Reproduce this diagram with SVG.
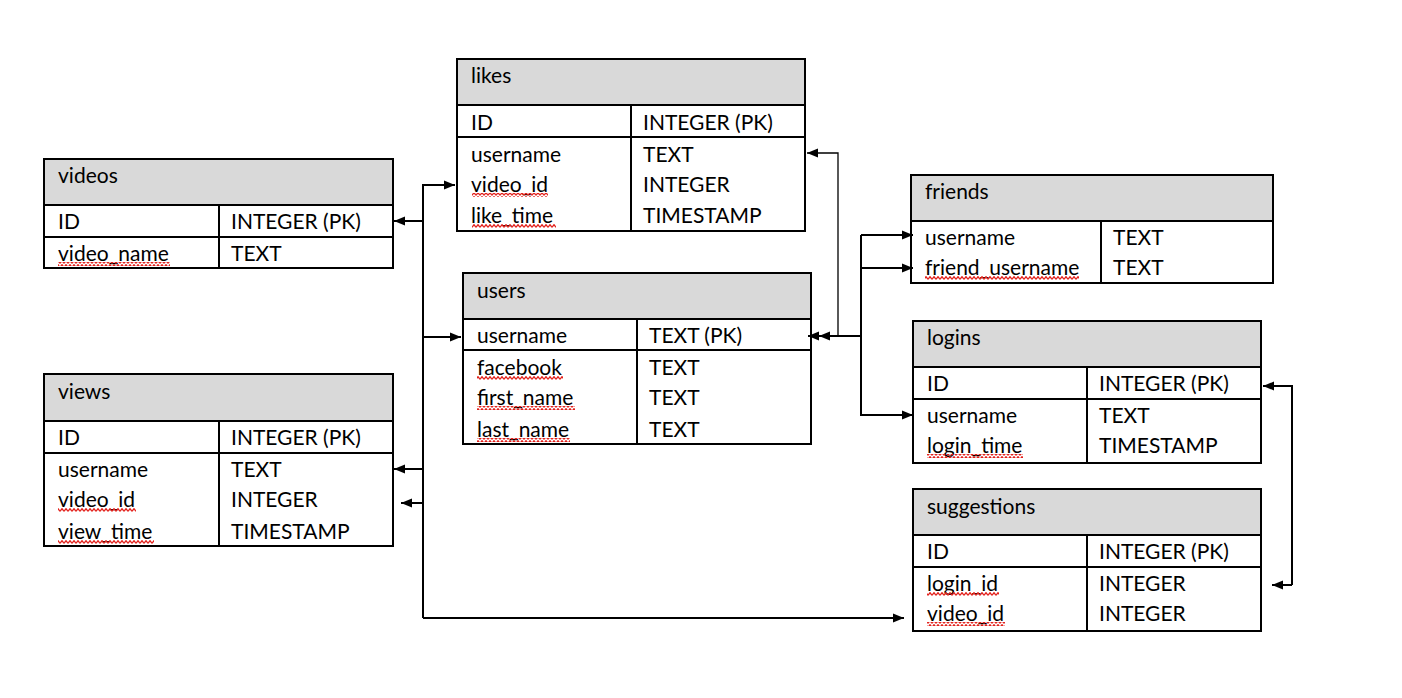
<svg xmlns="http://www.w3.org/2000/svg" width="1402" height="698" viewBox="0 0 1402 698">
  <defs>
    <marker id="arrow" markerUnits="userSpaceOnUse" markerWidth="12" markerHeight="10" refX="11" refY="5" orient="auto">
      <path d="M0,0.5 L11,5 L0,9.5 z" fill="#000"/>
    </marker>
    <pattern id="squiggle" patternUnits="userSpaceOnUse" width="4" height="4">
      <path d="M0,3.3 L2,0.7 L4,3.3" fill="none" stroke="#e3201b" stroke-width="1.3"/>
    </pattern>
  </defs>
  <style>
    .frame { fill: none; stroke: #000; stroke-width: 2; }
    .head { fill: #d9d9d9; stroke: none; }
    .rule { stroke: #000; stroke-width: 2; }
    text { font-family: Lato, "Liberation Sans", Arial, sans-serif; font-size: 21px; fill: #000; }
    .wave { fill: url(#squiggle); }
    .link { fill: none; stroke: #000; stroke-width: 2; }
    .thin { fill: none; stroke: #000; stroke-width: 1.3; }
  </style>
  <rect width="1402" height="698" fill="#fff"/>

  <!-- likes -->
  <g id="likes">
    <rect class="head" x="457" y="59" width="348" height="46"/>
    <line class="rule" x1="457" y1="105" x2="805" y2="105"/>
    <line class="rule" x1="457" y1="137" x2="805" y2="137"/>
    <line class="rule" x1="631" y1="105" x2="631" y2="231"/>
    <rect class="frame" x="457" y="59" width="348" height="172"/>
    <text x="471" y="83">likes</text>
    <text x="471" y="130">ID</text>
    <text x="643" y="130">INTEGER (PK)</text>
    <text x="471" y="162">username</text>
    <text x="643" y="162">TEXT</text>
    <text x="471" y="192">video_id</text>
    <text x="643" y="192">INTEGER</text>
    <text x="471" y="223">like_time</text>
    <text x="643" y="223">TIMESTAMP</text>
    <rect class="wave" x="472" y="193" width="76" height="4"/>
    <rect class="wave" x="472" y="224" width="84" height="4"/>
  </g>

  <!-- videos -->
  <g id="videos">
    <rect class="head" x="44" y="159" width="349" height="46"/>
    <line class="rule" x1="44" y1="205" x2="393" y2="205"/>
    <line class="rule" x1="44" y1="237" x2="393" y2="237"/>
    <line class="rule" x1="219" y1="205" x2="219" y2="268"/>
    <rect class="frame" x="44" y="159" width="349" height="109"/>
    <text x="58" y="183">videos</text>
    <text x="58" y="229">ID</text>
    <text x="231" y="229">INTEGER (PK)</text>
    <text x="58" y="261">video_name</text>
    <text x="231" y="261">TEXT</text>
    <rect class="wave" x="58" y="262" width="112" height="4"/>
  </g>

  <!-- views -->
  <g id="views">
    <rect class="head" x="44" y="374" width="349" height="47"/>
    <line class="rule" x1="44" y1="421" x2="393" y2="421"/>
    <line class="rule" x1="44" y1="453" x2="393" y2="453"/>
    <line class="rule" x1="219" y1="421" x2="219" y2="546"/>
    <rect class="frame" x="44" y="374" width="349" height="172"/>
    <text x="58" y="399">views</text>
    <text x="58" y="445">ID</text>
    <text x="231" y="445">INTEGER (PK)</text>
    <text x="58" y="477">username</text>
    <text x="231" y="477">TEXT</text>
    <text x="58" y="507">video_id</text>
    <text x="231" y="507">INTEGER</text>
    <text x="58" y="539">view_time</text>
    <text x="231" y="539">TIMESTAMP</text>
    <rect class="wave" x="58" y="508" width="78" height="4"/>
    <rect class="wave" x="58" y="540" width="96" height="4"/>
  </g>

  <!-- users -->
  <g id="users">
    <rect class="head" x="463" y="273" width="348" height="46"/>
    <line class="rule" x1="463" y1="319" x2="811" y2="319"/>
    <line class="rule" x1="463" y1="350" x2="811" y2="350"/>
    <line class="rule" x1="637" y1="319" x2="637" y2="444"/>
    <rect class="frame" x="463" y="273" width="348" height="171"/>
    <text x="477" y="298">users</text>
    <text x="477" y="343">username</text>
    <text x="649" y="343">TEXT (PK)</text>
    <text x="477" y="375">facebook</text>
    <text x="649" y="375">TEXT</text>
    <text x="477" y="405">first_name</text>
    <text x="649" y="405">TEXT</text>
    <text x="477" y="437">last_name</text>
    <text x="649" y="437">TEXT</text>
    <rect class="wave" x="477" y="376" width="86" height="4"/>
    <rect class="wave" x="477" y="406" width="98" height="4"/>
    <rect class="wave" x="477" y="438" width="93" height="4"/>
  </g>

  <!-- friends -->
  <g id="friends">
    <rect class="head" x="911" y="175" width="362" height="46"/>
    <line class="rule" x1="911" y1="221" x2="1273" y2="221"/>
    <line class="rule" x1="1101" y1="221" x2="1101" y2="283"/>
    <rect class="frame" x="911" y="175" width="362" height="108"/>
    <text x="925" y="199">friends</text>
    <text x="925" y="245">username</text>
    <text x="1113" y="245">TEXT</text>
    <text x="925" y="275">friend_username</text>
    <text x="1113" y="275">TEXT</text>
    <rect class="wave" x="925" y="276" width="154" height="4"/>
  </g>

  <!-- logins -->
  <g id="logins">
    <rect class="head" x="913" y="321" width="348" height="46"/>
    <line class="rule" x1="913" y1="367" x2="1261" y2="367"/>
    <line class="rule" x1="913" y1="399" x2="1261" y2="399"/>
    <line class="rule" x1="1087" y1="367" x2="1087" y2="463"/>
    <rect class="frame" x="913" y="321" width="348" height="142"/>
    <text x="927" y="345">logins</text>
    <text x="927" y="391">ID</text>
    <text x="1099" y="391">INTEGER (PK)</text>
    <text x="927" y="423">username</text>
    <text x="1099" y="423">TEXT</text>
    <text x="927" y="453">login_time</text>
    <text x="1099" y="453">TIMESTAMP</text>
    <rect class="wave" x="927" y="454" width="96" height="4"/>
  </g>

  <!-- suggestions -->
  <g id="suggestions">
    <rect class="head" x="913" y="489" width="348" height="46"/>
    <line class="rule" x1="913" y1="535" x2="1261" y2="535"/>
    <line class="rule" x1="913" y1="567" x2="1261" y2="567"/>
    <line class="rule" x1="1087" y1="535" x2="1087" y2="631"/>
    <rect class="frame" x="913" y="489" width="348" height="142"/>
    <text x="927" y="514">suggestions</text>
    <text x="927" y="559">ID</text>
    <text x="1099" y="559">INTEGER (PK)</text>
    <text x="927" y="591">login_id</text>
    <text x="1099" y="591">INTEGER</text>
    <text x="927" y="621">video_id</text>
    <text x="1099" y="621">INTEGER</text>
    <rect class="wave" x="927" y="592" width="72" height="4"/>
    <rect class="wave" x="927" y="622" width="78" height="4"/>
  </g>

  <!-- relationship lines -->
  <g id="connectors">
    <!-- left trunk -->
    <path class="link" d="M423,618 V185 H455" marker-end="url(#arrow)"/>
    <path class="link" d="M423,221 H394" marker-end="url(#arrow)"/>
    <path class="link" d="M423,337 H461" marker-end="url(#arrow)"/>
    <path class="link" d="M423,469 H394" marker-end="url(#arrow)"/>
    <path class="link" d="M423,503 H401" marker-end="url(#arrow)"/>
    <path class="link" d="M423,618 H904" marker-end="url(#arrow)"/>
    <!-- likes / users -->
    <path class="thin" d="M838,336 V153 H807" marker-end="url(#arrow)"/>
    <path class="link" d="M838,336 H808" marker-end="url(#arrow)"/>
    <path class="link" d="M861,336 H819" marker-end="url(#arrow)"/>
    <!-- users / friends / logins -->
    <path class="link" d="M861,235 V415 H913" marker-end="url(#arrow)"/>
    <path class="link" d="M861,235 H913" marker-end="url(#arrow)"/>
    <path class="link" d="M861,268 H913" marker-end="url(#arrow)"/>
    <!-- logins / suggestions -->
    <path class="link" d="M1292,585 V386 H1263" marker-end="url(#arrow)"/>
    <path class="link" d="M1292,585 H1272" marker-end="url(#arrow)"/>
  </g>
</svg>
